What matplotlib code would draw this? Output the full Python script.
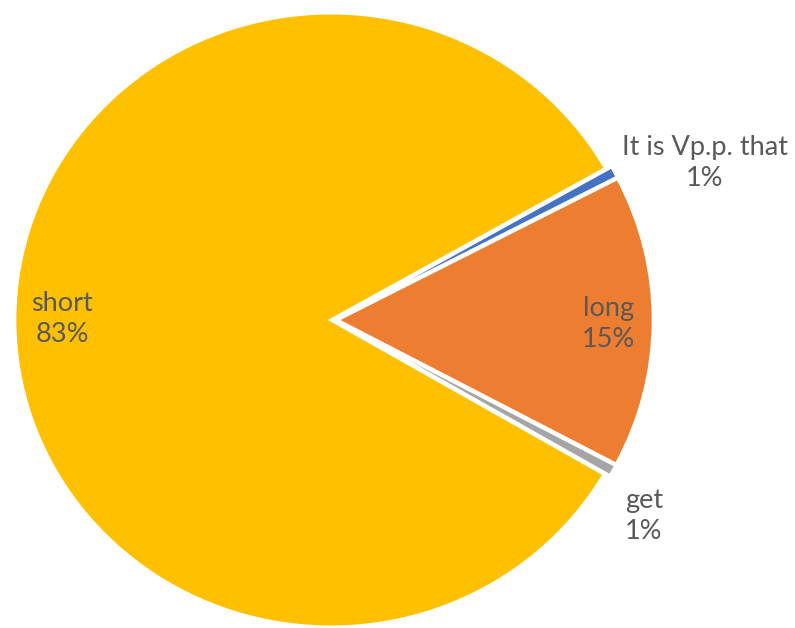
import matplotlib.pyplot as plt
import numpy as np

# datos del gráfico (orden horario desde la porción azul)
categorias = ['It is Vp.p. that', 'long', 'get', 'short']
valores = [0.6, 15.4, 0.6, 83.4]
colores = ['#4472C4', '#ED7D31', '#A5A5A5', '#FFC000']

# posición de las etiquetas: (distancia radial, desplazamiento angular en grados)
pos_etiquetas = [(1.28, -5.0), (0.87, -0.5), (1.17, -4.0), (0.86, 0.0)]

plt.rcParams['font.family'] = ['Lato', 'DejaVu Sans']

fig = plt.figure(figsize=(7.95, 6.28), dpi=100)
ax = fig.add_axes([0, 0, 1, 1])

wedges, _ = ax.pie(valores, colors=colores, startangle=29.6, counterclock=False,
                   explode=[0.01] * len(valores),
                   wedgeprops=dict(edgecolor='white', linewidth=2.2))

# la imagen original está algo estirada en horizontal
ax.set_aspect('auto')
cx, cy, rx, ry = 334, 308, 316, 307
ax.set_xlim(-cx / rx, (795 - cx) / rx)
ax.set_ylim(-cy / ry, (628 - cy) / ry)
ax.axis('off')

total = sum(valores)
for w, cat, val, (r, da) in zip(wedges, categorias, valores, pos_etiquetas):
    ang = np.deg2rad((w.theta1 + w.theta2) / 2 + da)
    ax.text(r * np.cos(ang), r * np.sin(ang), f'{cat}\n{val / total * 100:.0f}%',
            ha='center', va='center', fontsize=19.5, color='#595959',
            linespacing=1.3)

fig.savefig('out.png', dpi=100)
